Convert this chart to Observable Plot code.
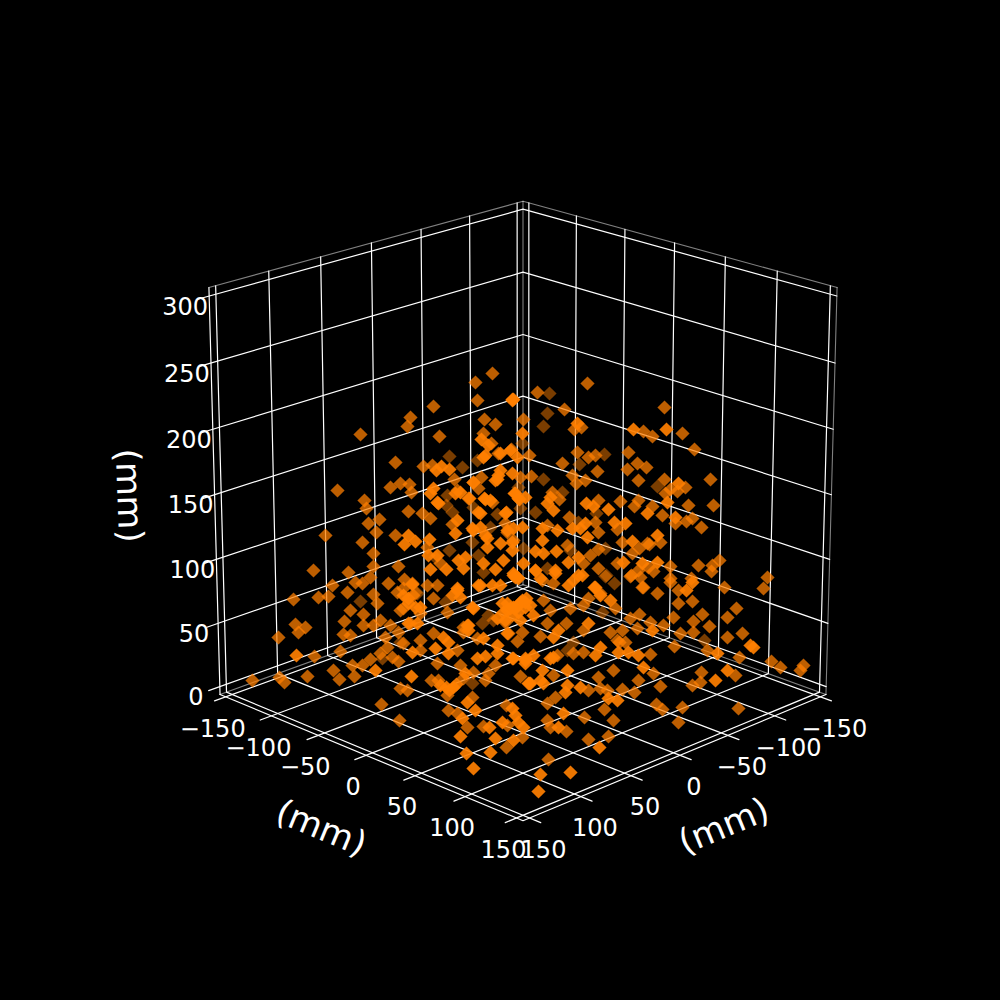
<!DOCTYPE html>
<html><head><meta charset="utf-8">
<script src="https://cdn.jsdelivr.net/npm/d3@7"></script>
<script src="https://cdn.jsdelivr.net/npm/@observablehq/plot@0.6"></script>
<style>html,body{margin:0;padding:0;background:#000}svg{display:block}</style>
</head><body><div id="chart"></div>
<script>
// Axis values
const axisTicks = [-150,-100,-50,0,50,100,150];
const axisTickLabels = ["−150","−100","−50","0","50","100","150"];
const zTicks = [0,50,100,150,200,250,300];
const zTickLabels = ["0","50","100","150","200","250","300"];
const axisLabel = "(mm)";
// Readings of the picture plane, grouped by depth shade
const dimPoints = [[522,443],[477,460],[449,456],[462,467],[447,495],[446,505],[452,512],[449,550],[435,557],[472,542],[478,555],[483,572],[473,507],[497,514],[520,508],[490,527],[523,548],[518,487],[549,393],[547,413],[543,426],[604,454],[579,464],[543,479],[657,486],[562,492],[535,512],[596,513],[578,522],[570,550],[605,548],[547,568],[606,575],[605,576],[614,583],[417,593],[360,601],[445,602],[482,623],[493,620],[400,642],[382,658],[472,683],[704,640],[567,650],[488,615],[602,612],[573,642],[415,592]];
const midPoints = [[492,373],[475,382],[477,400],[433,406],[410,417],[407,426],[360,434],[439,436],[484,419],[495,424],[483,433],[491,443],[523,419],[511,449],[498,453],[395,462],[423,466],[432,465],[337,490],[390,487],[400,483],[409,484],[411,492],[364,500],[366,508],[408,511],[422,513],[430,518],[379,519],[368,523],[376,532],[325,535],[395,535],[362,542],[373,553],[427,547],[398,566],[373,566],[313,570],[348,572],[454,479],[457,490],[452,524],[440,563],[492,502],[478,488],[473,482],[481,477],[468,498],[505,523],[507,532],[513,540],[520,477],[587,383],[537,392],[564,409],[581,427],[574,429],[664,407],[643,431],[652,436],[682,433],[694,449],[628,452],[577,452],[588,457],[595,455],[562,463],[637,463],[627,469],[646,467],[597,471],[529,455],[531,476],[572,475],[576,483],[585,480],[638,480],[664,479],[710,479],[677,491],[685,487],[670,489],[665,493],[688,505],[713,505],[552,492],[559,499],[598,500],[620,501],[638,500],[634,506],[652,506],[662,515],[569,517],[675,523],[686,521],[692,518],[701,527],[617,529],[595,522],[598,532],[547,525],[660,542],[649,544],[639,548],[622,542],[567,545],[598,549],[590,555],[583,563],[632,553],[617,563],[648,567],[638,570],[653,571],[670,566],[698,565],[719,560],[712,565],[711,571],[598,568],[535,570],[631,575],[767,577],[691,578],[670,578],[293,599],[318,597],[328,596],[332,585],[347,592],[355,582],[362,583],[370,577],[373,594],[377,603],[350,610],[363,614],[344,621],[363,625],[380,620],[373,625],[305,627],[295,624],[298,632],[278,637],[343,634],[350,635],[385,637],[390,625],[388,583],[397,592],[403,588],[412,583],[400,610],[413,595],[427,585],[437,585],[433,598],[447,612],[420,640],[398,632],[433,633],[420,650],[457,650],[387,647],[380,653],[392,657],[398,661],[340,651],[314,656],[352,665],[362,665],[370,659],[463,627],[463,632],[477,638],[460,665],[495,665],[517,641],[508,633],[437,663],[431,680],[438,680],[447,695],[473,672],[463,678],[485,680],[488,673],[520,676],[252,680],[279,677],[284,682],[307,676],[333,670],[339,679],[354,676],[400,688],[407,690],[381,704],[399,720],[448,710],[457,713],[472,697],[467,727],[483,726],[506,705],[507,725],[506,747],[522,737],[542,580],[553,583],[600,593],[588,598],[583,605],[615,608],[570,608],[550,610],[543,600],[505,622],[547,623],[566,623],[540,636],[522,632],[583,630],[610,632],[622,630],[630,618],[639,614],[619,642],[625,642],[637,628],[650,622],[663,625],[673,617],[693,621],[702,614],[709,626],[693,632],[680,633],[727,637],[742,633],[727,617],[736,608],[763,588],[724,587],[670,582],[657,593],[642,587],[640,577],[630,576],[678,590],[692,601],[678,603],[674,646],[707,650],[739,657],[771,661],[780,667],[803,665],[800,670],[583,652],[573,653],[617,640],[650,654],[653,673],[638,680],[613,670],[598,677],[553,675],[557,655],[588,690],[555,697],[547,703],[600,688],[607,690],[622,689],[634,692],[660,686],[692,685],[700,682],[701,672],[735,675],[656,704],[662,709],[682,707],[678,722],[738,708],[604,709],[613,720],[584,717],[547,720],[550,727],[566,731],[608,736],[588,739],[548,759],[404,579],[403,608],[420,613],[403,643],[410,623],[647,543],[643,587]];
const brightPoints = [[512,400],[512,399],[481,439],[485,455],[483,457],[517,457],[436,470],[441,466],[449,469],[408,535],[404,544],[415,541],[429,539],[430,569],[446,569],[433,488],[430,493],[437,502],[457,520],[455,533],[458,560],[465,557],[463,568],[473,530],[485,535],[487,547],[500,543],[483,563],[495,569],[503,560],[480,513],[485,499],[497,479],[500,470],[512,473],[505,513],[514,493],[519,499],[522,527],[512,550],[523,563],[513,575],[522,433],[513,399],[577,423],[633,429],[666,429],[678,483],[667,502],[550,497],[547,503],[553,510],[515,493],[586,503],[593,506],[608,509],[647,513],[675,517],[614,522],[625,523],[580,528],[585,523],[572,528],[587,537],[557,530],[542,528],[542,540],[657,535],[632,541],[556,551],[543,553],[535,551],[512,542],[578,557],[568,562],[623,562],[642,563],[657,562],[555,573],[513,573],[457,590],[408,603],[420,607],[480,585],[492,585],[473,608],[467,625],[507,610],[520,603],[513,607],[408,623],[417,623],[443,637],[448,642],[435,648],[412,652],[448,653],[296,655],[375,670],[468,630],[483,638],[497,645],[477,658],[485,656],[512,658],[525,663],[502,603],[411,676],[446,687],[453,687],[465,673],[528,683],[462,718],[467,702],[475,710],[460,736],[489,727],[495,738],[490,752],[466,753],[473,768],[502,722],[512,708],[515,715],[518,722],[523,727],[513,740],[517,577],[568,585],[578,575],[594,587],[610,600],[520,602],[515,608],[533,615],[558,630],[553,637],[588,623],[652,630],[692,582],[686,590],[717,653],[750,645],[753,647],[600,647],[595,655],[618,652],[628,652],[638,655],[643,667],[567,670],[542,670],[540,680],[543,683],[530,683],[525,660],[513,658],[550,658],[567,685],[565,692],[580,687],[608,698],[617,700],[715,680],[727,670],[563,713],[558,727],[599,747],[540,774],[570,772],[538,791],[478,512],[472,528],[480,527],[487,538],[506,512],[490,500],[484,498],[469,498],[438,503],[455,493],[460,492],[473,482],[495,480],[498,475],[500,453],[488,445],[510,450],[428,555],[437,555],[513,528],[507,530],[525,497],[518,498],[412,584],[403,595],[408,598],[415,607],[460,597],[452,595],[457,588],[478,585],[500,585],[515,577],[518,578],[472,607],[468,625],[507,603],[515,607],[522,600],[505,620],[507,633],[497,653],[525,658],[555,570],[573,580],[582,575],[535,570],[595,587],[600,595],[525,602],[533,655],[553,657],[529,683],[540,578],[510,608],[518,612],[525,607],[530,605],[512,615],[503,612],[497,618],[520,620],[526,598],[440,685],[449,690],[456,684]];
// Camera of the 3D view
const M = 156.25, tickEnd = 167, zLow = -6.25, zHigh = 306.25;
const elev = 20 * Math.PI / 180, S = Math.sin(elev), C = Math.cos(elev);
const dist = 10, focal = 4107, cx = 522.5, cy = 494.2, hXY = 0.531, hZ = 0.527;
function project(p, q, z) {
  const P = p / M * hXY, Q = q / M * hXY, H = (z - 150) / M * hZ;
  const u = (P + Q) / Math.SQRT2, v = (P - Q) / Math.SQRT2;
  const d = dist - (u * C + H * S);
  return [cx + focal * v / d, cy - focal * (H * C - u * S) / d];
}
const path = (id, pts) => pts.map(([p, q, z]) => { const [x, y] = project(p, q, z); return {id, x, y}; });
const grid = [];
axisTicks.forEach(t => {
  grid.push(...path("p" + t, [[t, tickEnd, zLow], [t, -M, zLow], [t, -M, zHigh]]));
  grid.push(...path("q" + t, [[tickEnd, t, zLow], [-M, t, zLow], [-M, t, zHigh]]));
});
zTicks.forEach(z => grid.push(...path("z" + z, [[M, -M, z], [-M, -M, z], [-M, tickEnd, z]])));
const edges = [
  ...path("top", [[M, -M, zHigh], [-M, -M, zHigh], [-M, M, zHigh]]),
  ...path("right", [[M, -M, zLow], [M, -M, zHigh]]),
  ...path("back", [[-M, -M, zLow], [-M, -M, zHigh]]),
  ...path("floor", [[-M, M, zLow], [-M, -M, zLow], [M, -M, zLow]])
];
const axes = [
  ...path("a", [[-M, M, zLow], [M, M, zLow], [M, -M, zLow]]),
  ...path("zaxis", [[-M, M, zLow], [-M, M, zHigh]])
];
const lab = (xyz, text, dx, dy) => { const [x, y] = project(...xyz); return {x: x + dx, y: y + dy, text}; };
const leftLabels = axisTicks.map((t, i) => lab([t, M, zLow], axisTickLabels[i], -13, 32));
const rightLabels = axisTicks.map((t, i) => lab([M, t, zLow], axisTickLabels[i], 14, 32));
const zLabels = zTicks.map((z, i) => lab([-M, M, z], zTickLabels[i], -24, 11));
const toXY = a => a.map(([x, y]) => ({x, y}));
const font = {fontFamily: "DejaVu Sans", fill: "white", lineAnchor: "middle", textAnchor: "middle"};
const diamonds = (pts, o) => Plot.dot(toXY(pts), {x: "x", y: "y", symbol: "diamond2", r: 6.4, fill: "#ff7f00", fillOpacity: o, stroke: "none"});
const plot = Plot.plot({
  width: 1000, height: 1000, margin: 0,
  style: {background: "#000"},
  x: {domain: [0, 1000], axis: null},
  y: {domain: [1000, 0], axis: null},
  marks: [
    Plot.line(edges, {x: "x", y: "y", z: "id", stroke: "#fff", strokeOpacity: 0.5, strokeWidth: 1.1}),
    Plot.line(grid, {x: "x", y: "y", z: "id", stroke: "#fff", strokeOpacity: 1, strokeWidth: 1.2, curve: "linear"}),
    Plot.line(axes, {x: "x", y: "y", z: "id", stroke: "#fff", strokeWidth: 1.2}),
    diamonds(dimPoints, 0.48),
    diamonds(midPoints, 0.74),
    diamonds(brightPoints, 0.92),
    Plot.text(leftLabels, {x: "x", y: "y", text: "text", fontSize: 24, ...font}),
    Plot.text(rightLabels, {x: "x", y: "y", text: "text", fontSize: 24, ...font}),
    Plot.text(zLabels, {x: "x", y: "y", text: "text", fontSize: 24, ...font}),
    Plot.text([lab([0, M, zLow], axisLabel, -45, 73)], {x: "x", y: "y", text: "text", fontSize: 34.5, rotate: 22.5, ...font}),
    Plot.text([lab([M, 0, zLow], axisLabel, 44, 71)], {x: "x", y: "y", text: "text", fontSize: 34.5, rotate: -22.5, ...font}),
    Plot.text([lab([-M, M, 150], axisLabel, -86, 1)], {x: "x", y: "y", text: "text", fontSize: 34.5, rotate: 88, ...font})
  ]
});
document.getElementById("chart").append(plot);
</script></body></html>
